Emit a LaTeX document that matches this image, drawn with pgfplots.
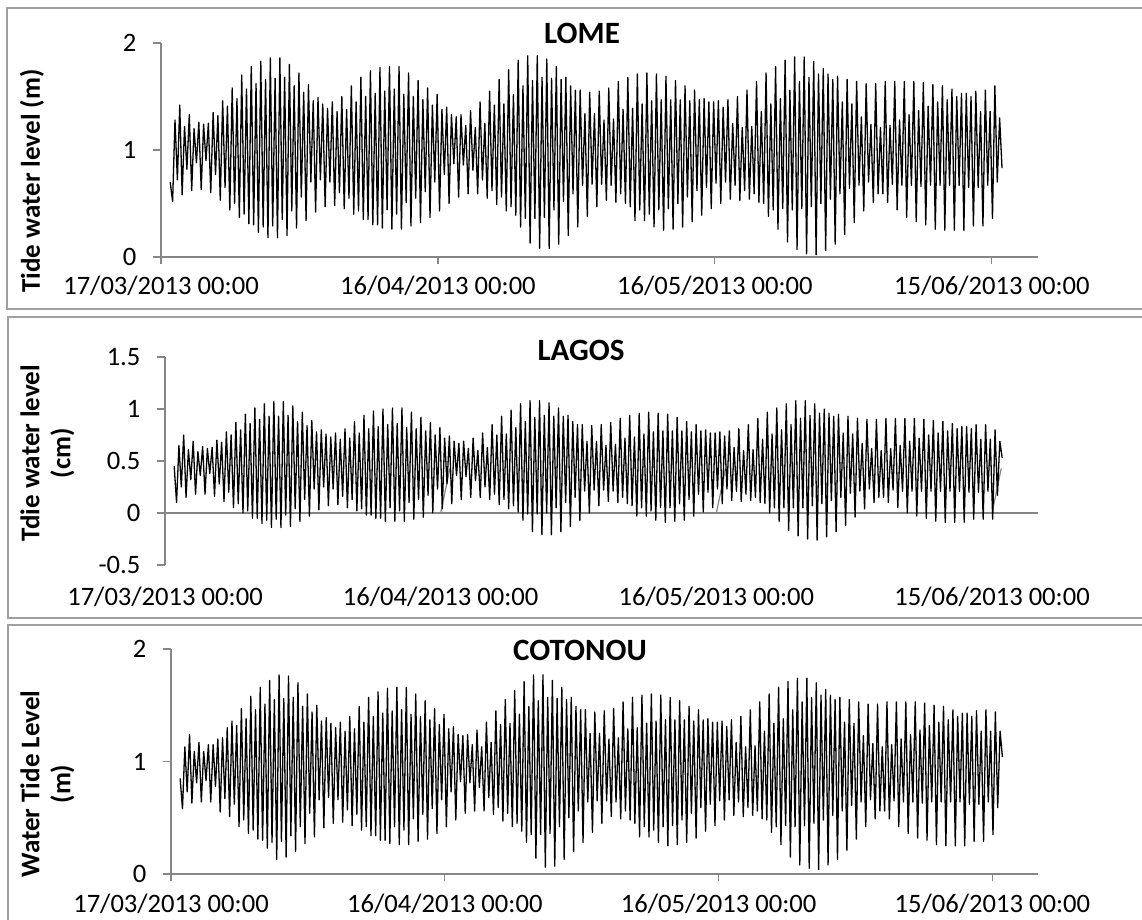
\documentclass[border=0pt]{standalone}
\usepackage{fontspec}
\setmainfont{Carlito}
\usepackage{pgfplots}
\pgfplotsset{compat=1.18}
\usepackage{pgfplotstable}
\definecolor{axgray}{RGB}{134,134,134}
\definecolor{framegray}{RGB}{160,160,160}

\pgfplotstableread{
lome lagos coto
0.70 0.45 0.85
0.52 0.10 0.58
1.28 0.65 1.13
0.72 0.25 0.73
1.42 0.75 1.24
0.58 0.15 0.63
1.22 0.61 1.09
0.82 0.32 0.81
1.33 0.69 1.17
0.62 0.18 0.64
1.20 0.59 1.09
0.88 0.36 0.83
1.26 0.64 1.15
0.63 0.18 0.64
1.24 0.62 1.15
0.90 0.38 0.78
1.25 0.63 1.20
0.60 0.16 0.55
1.35 0.70 1.21
0.77 0.28 0.67
1.32 0.68 1.30
0.53 0.11 0.51
1.46 0.78 1.36
0.65 0.20 0.62
1.41 0.75 1.32
0.44 0.05 0.42
1.58 0.87 1.47
0.50 0.09 0.48
1.48 0.80 1.38
0.37 0.00 0.36
1.70 0.95 1.58
0.40 0.02 0.39
1.57 0.86 1.46
0.31 -0.05 0.31
1.78 1.01 1.66
0.30 -0.05 0.30
1.62 0.90 1.51
0.23 -0.10 0.23
1.83 1.05 1.72
0.28 -0.07 0.28
1.66 0.93 1.55
0.18 -0.14 0.13
1.86 1.07 1.77
0.29 -0.06 0.29
1.67 0.93 1.56
0.18 -0.14 0.15
1.86 1.07 1.76
0.35 -0.02 0.34
1.68 0.94 1.57
0.20 -0.13 0.20
1.80 1.03 1.70
0.43 0.04 0.42
1.60 0.88 1.49
0.27 -0.08 0.27
1.72 0.97 1.60
0.56 0.13 0.54
1.54 0.84 1.44
0.34 -0.03 0.33
1.61 0.89 1.50
0.70 0.23 0.66
1.46 0.78 1.36
0.42 0.03 0.41
1.49 0.80 1.39
0.72 0.25 0.68
1.43 0.76 1.34
0.47 0.07 0.45
1.39 0.73 1.30
0.70 0.23 0.66
1.45 0.77 1.35
0.48 0.08 0.46
1.36 0.71 1.27
0.60 0.16 0.57
1.50 0.81 1.40
0.45 0.05 0.43
1.38 0.72 1.29
0.55 0.13 0.53
1.60 0.88 1.49
0.40 0.02 0.39
1.45 0.77 1.35
0.43 0.04 0.42
1.68 0.94 1.57
0.35 -0.02 0.34
1.50 0.81 1.40
0.35 -0.02 0.34
1.74 0.98 1.62
0.30 -0.05 0.30
1.53 0.83 1.43
0.30 -0.05 0.30
1.77 1.00 1.65
0.27 -0.08 0.27
1.55 0.85 1.45
0.44 0.05 0.42
1.78 1.01 1.66
0.26 -0.08 0.26
1.57 0.86 1.46
0.40 0.02 0.39
1.78 1.01 1.66
0.26 -0.08 0.26
1.52 0.82 1.42
0.51 0.10 0.49
1.72 0.97 1.60
0.29 -0.06 0.29
1.50 0.81 1.40
0.55 0.13 0.53
1.65 0.92 1.54
0.32 -0.04 0.31
1.47 0.79 1.37
0.61 0.17 0.58
1.58 0.87 1.47
0.37 0.00 0.36
1.42 0.75 1.33
0.70 0.23 0.66
1.52 0.82 1.42
0.43 0.04 0.42
1.38 0.72 1.29
0.77 0.28 0.73
1.40 0.74 1.31
0.50 0.09 0.48
1.33 0.69 1.24
0.87 0.36 0.82
1.31 0.67 1.23
0.56 0.13 0.54
1.33 0.69 1.24
0.86 0.35 0.81
1.23 0.62 1.15
0.59 0.15 0.56
1.37 0.72 1.28
0.81 0.31 0.77
1.21 0.60 1.13
0.59 0.15 0.56
1.45 0.77 1.35
0.72 0.25 0.68
1.25 0.63 1.17
0.55 0.13 0.53
1.55 0.85 1.45
0.62 0.18 0.59
1.42 0.75 1.33
0.49 0.08 0.47
1.66 0.93 1.55
0.56 0.13 0.54
1.43 0.76 1.34
0.43 0.04 0.42
1.75 0.99 1.63
0.47 0.07 0.45
1.52 0.82 1.42
0.39 0.01 0.38
1.84 1.05 1.71
0.28 -0.07 0.28
1.60 0.88 1.49
0.36 -0.01 0.35
1.88 1.08 1.77
0.13 -0.18 0.14
1.65 0.92 1.54
0.36 -0.01 0.35
1.88 1.08 1.77
0.08 -0.21 0.06
1.68 0.94 1.57
0.37 0.00 0.36
1.85 1.06 1.72
0.08 -0.21 0.07
1.67 0.93 1.56
0.44 0.05 0.42
1.78 1.01 1.66
0.12 -0.18 0.13
1.66 0.93 1.55
0.52 0.10 0.50
1.68 0.94 1.57
0.20 -0.13 0.20
1.60 0.88 1.49
0.59 0.15 0.56
1.56 0.85 1.46
0.28 -0.07 0.28
1.56 0.85 1.46
0.67 0.21 0.64
1.34 0.69 1.25
0.38 0.00 0.37
1.54 0.84 1.44
0.68 0.22 0.65
1.34 0.69 1.25
0.47 0.07 0.45
1.55 0.85 1.45
0.68 0.22 0.65
1.28 0.65 1.20
0.53 0.11 0.51
1.58 0.87 1.47
0.67 0.21 0.64
1.29 0.66 1.21
0.51 0.10 0.49
1.64 0.91 1.53
0.59 0.15 0.56
1.38 0.72 1.29
0.50 0.09 0.48
1.68 0.94 1.57
0.47 0.07 0.45
1.39 0.73 1.30
0.34 -0.03 0.33
1.71 0.96 1.59
0.44 0.05 0.42
1.43 0.76 1.34
0.34 -0.03 0.33
1.72 0.97 1.60
0.40 0.02 0.39
1.46 0.78 1.36
0.28 -0.07 0.28
1.71 0.96 1.59
0.44 0.05 0.42
1.47 0.79 1.37
0.25 -0.09 0.25
1.69 0.95 1.57
0.45 0.05 0.43
1.47 0.79 1.37
0.26 -0.08 0.26
1.65 0.92 1.54
0.50 0.09 0.48
1.47 0.79 1.37
0.28 -0.07 0.28
1.60 0.88 1.49
0.56 0.13 0.54
1.46 0.78 1.36
0.33 -0.03 0.32
1.56 0.85 1.46
0.62 0.18 0.59
1.47 0.79 1.37
0.39 0.01 0.38
1.48 0.80 1.38
0.65 0.20 0.62
1.45 0.77 1.35
0.45 0.05 0.43
1.45 0.77 1.35
0.69 0.23 0.65
1.46 0.78 1.36
0.50 0.09 0.48
1.40 0.74 1.31
0.70 0.23 0.66
1.47 0.79 1.37
0.54 0.12 0.52
1.25 0.63 1.17
0.67 0.21 0.64
1.50 0.81 1.40
0.53 0.11 0.51
1.21 0.60 1.13
0.62 0.18 0.59
1.56 0.85 1.46
0.54 0.12 0.52
1.22 0.61 1.14
0.59 0.15 0.56
1.64 0.91 1.53
0.51 0.10 0.49
1.36 0.71 1.27
0.50 0.09 0.48
1.72 0.97 1.60
0.38 0.00 0.37
1.43 0.76 1.34
0.44 0.05 0.42
1.78 1.01 1.66
0.26 -0.08 0.26
1.48 0.80 1.38
0.45 0.05 0.43
1.84 1.05 1.71
0.14 -0.17 0.15
1.56 0.85 1.46
0.44 0.05 0.42
1.87 1.08 1.74
0.07 -0.22 0.08
1.64 0.91 1.53
0.45 0.05 0.43
1.87 1.08 1.74
0.03 -0.25 0.05
1.68 0.94 1.57
0.47 0.07 0.45
1.83 1.05 1.70
0.02 -0.26 0.04
1.71 0.96 1.59
0.50 0.09 0.48
1.76 1.00 1.64
0.06 -0.23 0.08
1.71 0.96 1.59
0.54 0.12 0.52
1.66 0.93 1.55
0.12 -0.18 0.13
1.69 0.95 1.57
0.59 0.15 0.56
1.45 0.77 1.35
0.21 -0.12 0.21
1.66 0.93 1.55
0.64 0.19 0.61
1.43 0.76 1.34
0.32 -0.04 0.31
1.64 0.91 1.53
0.67 0.21 0.64
1.31 0.67 1.23
0.43 0.04 0.42
1.62 0.90 1.51
0.70 0.23 0.66
1.24 0.62 1.16
0.51 0.10 0.49
1.62 0.90 1.51
0.59 0.15 0.56
1.21 0.60 1.13
0.59 0.15 0.56
1.64 0.91 1.53
0.51 0.10 0.49
1.23 0.62 1.15
0.68 0.22 0.65
1.64 0.91 1.53
0.44 0.05 0.42
1.28 0.65 1.20
0.67 0.21 0.64
1.64 0.91 1.53
0.37 0.00 0.36
1.33 0.69 1.24
0.67 0.21 0.64
1.64 0.91 1.53
0.33 -0.03 0.32
1.37 0.72 1.28
0.66 0.21 0.63
1.63 0.90 1.52
0.30 -0.05 0.30
1.41 0.75 1.32
0.67 0.21 0.64
1.61 0.89 1.50
0.26 -0.08 0.26
1.45 0.77 1.35
0.67 0.21 0.64
1.60 0.88 1.49
0.25 -0.09 0.25
1.47 0.79 1.37
0.67 0.21 0.64
1.57 0.86 1.46
0.25 -0.09 0.25
1.50 0.81 1.40
0.67 0.21 0.64
1.53 0.83 1.43
0.25 -0.09 0.25
1.53 0.83 1.43
0.65 0.20 0.62
1.50 0.81 1.40
0.29 -0.06 0.29
1.55 0.85 1.45
0.65 0.20 0.62
1.36 0.71 1.27
0.29 -0.06 0.29
1.56 0.85 1.46
0.67 0.21 0.64
1.36 0.71 1.27
0.36 -0.06 0.35
1.60 0.80 1.44
0.70 0.17 0.59
1.30 0.69 1.27
0.83 0.53 1.04
}\tide

\pgfplotsset{
  tidestyle/.style={
    scale only axis,
    anchor=south west,
    xmin=-3.873, xmax=364.1,
    axis lines*=left,
    axis line style={axgray, line width=0.6pt},
    tick align=outside,
    major tick length=3.75pt,
    tick style={axgray, line width=0.6pt},
    xtick={-3.873,112.33,228.53,344.73},
    xticklabels={17/03/2013 00:00,16/04/2013 00:00,16/05/2013 00:00,15/06/2013 00:00},
    tick label style={font=\fontsize{13.3}{16}\selectfont, text=black},
    yticklabel style={xshift=-5pt},
    clip=false,
  },
  tideline/.style={black, line width=0.65pt, line join=round, mark=none}
}

\begin{document}
\begin{tikzpicture}
\useasboundingbox (0,0) rectangle (571pt,460pt);
\draw[framegray, line width=0.6pt] (3.5pt,456pt) rectangle (590pt,305.5pt);
\draw[framegray, line width=0.6pt] (4pt,301.5pt) rectangle (590pt,151pt);
\draw[framegray, line width=0.6pt] (4pt,147.5pt) rectangle (590pt,-10pt);

% LOME
\begin{axis}[tidestyle, at={(80.5pt,331.5pt)}, width=438.5pt, height=107pt,
  ymin=0, ymax=2, ytick={0,1,2}, yticklabels={0,1,2},
  xticklabel style={yshift=-2pt}]
\addplot[tideline] table[x expr=\coordindex, y=lome] {\tide};
\end{axis}

% LAGOS
\begin{axis}[tidestyle, at={(82.5pt,177.5pt)}, width=436.5pt, height=104pt,
  ymin=-0.5, ymax=1.5, ytick={-0.5,0,0.5,1,1.5}, yticklabels={-0.5,0,0.5,1,1.5},
  x axis line style={draw=none}, xtick style={draw=none},
  xticklabel style={yshift=-3.5pt}]
\draw[axgray, line width=0.6pt] (axis cs:-3.873,0) -- (axis cs:364.1,0);
\draw[axgray, line width=0.6pt] (axis cs:112.33,0) -- ++(0,-3.75pt);
\draw[axgray, line width=0.6pt] (axis cs:228.53,0) -- ++(0,-3.75pt);
\draw[axgray, line width=0.6pt] (axis cs:344.73,0) -- ++(0,-3.75pt);
\addplot[tideline] table[x expr=\coordindex, y=lagos] {\tide};
\end{axis}

% COTONOU
\begin{axis}[tidestyle, at={(85.5pt,23pt)}, width=433.5pt, height=112.5pt,
  ymin=0, ymax=2, ytick={0,1,2}, yticklabels={0,1,2},
  xticklabel style={yshift=-2.5pt}]
\addplot[tideline] table[x expr=\coordindex, y=coto] {\tide};
\end{axis}

% titles
\node[font=\fontsize{15.5}{18}\selectfont\bfseries] at (291pt,443.5pt) {LOME};
\node[font=\fontsize{15.5}{18}\selectfont\bfseries] at (290.5pt,285pt) {LAGOS};
\node[font=\fontsize{15.5}{18}\selectfont\bfseries] at (290pt,135pt) {COTONOU};

% y labels
\node[rotate=90, font=\fontsize{13.5}{15.5}\selectfont\bfseries] at (16pt,369.5pt) {Tide water level (m)};
\node[rotate=90, align=center, font=\fontsize{13.5}{15.5}\selectfont\bfseries] at (23.75pt,233.5pt) {Tdie water level\\(cm)};
\node[rotate=90, align=center, font=\fontsize{13.5}{15.5}\selectfont\bfseries] at (23.75pt,68pt) {Water Tide Level\\(m)};
\end{tikzpicture}
\end{document}
